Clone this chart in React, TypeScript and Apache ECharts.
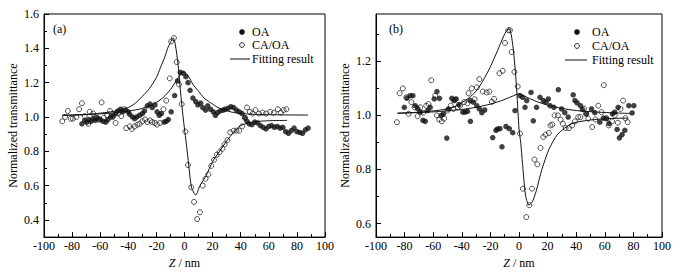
import React, { useEffect, useRef } from "react";
import * as echarts from "echarts";

type P = [number, number];

// ---- Panel (a) ----
const aOA: P[] = [
  [-73, 0.96], [-71, 0.98], [-69.5, 0.97], [-68, 0.985], [-66.5, 0.975], [-65, 0.99], [-63.5, 0.98], [-62, 0.995],
  [-60, 0.985], [-58, 0.975], [-56, 0.97], [-54.5, 0.985], [-52.5, 1.0], [-51, 1.005], [-49, 1.02], [-47.5, 1.035],
  [-45.5, 1.045], [-44, 1.03], [-42, 1.04], [-40, 1.03], [-39, 1.015], [-37, 1.0], [-35.5, 0.99], [-34, 1.0],
  [-32, 1.01], [-30, 1.02], [-28.5, 1.035], [-26.5, 1.065], [-24.5, 1.075], [-23, 1.055], [-21, 1.07], [-19.5, 1.03],
  [-18, 1.01], [-16.5, 1.02], [-14.5, 0.97], [-13, 0.975], [-11.5, 0.985], [-9.5, 1.03], [-7, 1.125], [-5, 1.21],
  [-3, 1.26], [-1, 1.255], [1, 1.235], [2.5, 1.2], [4, 1.155], [6, 1.11], [8, 1.09], [9.5, 1.07], [11.5, 1.08],
  [13, 1.055], [15, 1.04], [16.5, 1.065], [18.5, 1.045], [20.5, 1.03], [22, 1.01], [23.5, 1.025], [25.5, 1.035],
  [27.5, 1.04], [29, 1.045], [31, 1.05], [33, 1.06], [35, 1.055], [37, 1.04], [39, 1.03], [41, 1.02], [43, 0.995],
  [44.5, 0.975], [46, 0.96], [48, 0.955], [50, 0.97], [52, 0.965], [54, 0.95], [56, 0.94], [58, 0.93], [60, 0.945],
  [62, 0.95], [64, 0.94], [66, 0.945], [68, 0.935], [70, 0.94], [72, 0.915], [74, 0.905], [76, 0.92], [78, 0.935],
  [80, 0.915], [82, 0.91], [84, 0.905], [86, 0.925], [88, 0.935],
];

const aCA: P[] = [
  [-87, 0.975], [-85, 1.0], [-83, 1.035], [-81, 0.99], [-79.5, 0.99], [-77, 1.0], [-75, 1.045], [-73, 1.08],
  [-71, 1.005], [-68.5, 0.96], [-67.5, 1.03], [-65, 1.02], [-63, 0.995], [-61, 0.985], [-59, 1.085], [-57.5, 0.995],
  [-55, 1.01], [-53, 1.035], [-51, 1.0], [-49, 0.965], [-47, 1.02], [-45, 1.005], [-43, 1.045], [-41.5, 0.935],
  [-39, 0.945], [-37.5, 0.93], [-35.5, 0.945], [-33.5, 0.955], [-32, 0.96], [-30, 0.975], [-28, 0.985], [-26.5, 0.97],
  [-24.5, 0.98], [-23, 0.97], [-21, 0.965], [-19.5, 0.955], [-17.5, 0.965], [-15, 1.045], [-13, 1.095], [-10.5, 1.225],
  [-9.5, 1.44], [-7.5, 1.46], [-5.5, 1.32], [-4, 1.19], [-2, 1.075], [0.7, 0.915], [2.5, 0.72], [4.8, 0.59],
  [6.8, 0.505], [9, 0.405], [11, 0.445], [13, 0.6], [15, 0.64], [17, 0.665], [19, 0.715], [21, 0.75], [23, 0.78],
  [25, 0.795], [27, 0.815], [28.5, 0.84], [30.5, 0.865], [32.5, 0.91], [35, 0.92], [37, 0.92], [39, 0.92],
  [41, 0.945], [43, 0.995], [44.5, 1.055], [46.5, 1.03], [48.5, 1.02], [50.5, 1.04], [53, 1.02], [55.5, 1.025],
  [58, 1.02], [61, 1.03], [63.5, 1.025], [66.5, 1.045], [68.5, 1.025], [70.5, 1.04], [72.5, 1.045],
];

const aOAFit: P[] = [
  [-87, 1.01], [-70, 1.014], [-50, 1.024], [-40, 1.034], [-30, 1.05], [-20, 1.085], [-15, 1.115], [-10, 1.16],
  [-6, 1.21], [-3, 1.245], [-1, 1.262], [1, 1.255], [3, 1.235], [6, 1.19], [10, 1.15], [14, 1.11], [20, 1.075],
  [25, 1.05], [35, 1.026], [47, 1.016], [60, 1.013], [88, 1.011],
];

const aCAFit: P[] = [
  [-87, 1.009], [-75, 1.012], [-65, 1.018], [-55, 1.027], [-45, 1.042], [-40, 1.055], [-35, 1.08], [-30, 1.12],
  [-25, 1.165], [-20, 1.23], [-17, 1.29], [-14, 1.35], [-12, 1.4], [-10, 1.435], [-8, 1.46], [-6.5, 1.42],
  [-4.5, 1.3], [-2.8, 1.145], [-1.4, 1.03], [0.3, 0.91], [1.5, 0.83], [3, 0.72], [5, 0.59], [8, 0.545], [11, 0.6],
  [15.5, 0.66], [20, 0.74], [25, 0.8], [30, 0.86], [35, 0.91], [40, 0.95], [50, 0.972], [60, 0.978], [73, 0.98],
];

// ---- Panel (b) ----
const bOA: P[] = [
  [-80.2, 1.03], [-78.4, 1.064], [-76.1, 1.073], [-74.2, 1.073], [-72.6, 1.036], [-70.8, 1.025], [-69.1, 1.012],
  [-67.2, 0.982], [-65.6, 0.978], [-63.9, 1.018], [-62.1, 1.03], [-59.3, 1.061], [-57.4, 1.088], [-55.6, 1.063],
  [-54.4, 1.0], [-52.8, 1.006], [-50.5, 0.916], [-49.3, 1.024], [-47, 1.063], [-45.5, 1.055], [-44, 1.061],
  [-42, 1.04], [-39.3, 1.012], [-37.7, 1.012], [-36, 1.015], [-34.2, 1.055], [-34, 0.978], [-31.9, 1.049],
  [-29.5, 1.036], [-27.7, 1.024], [-26, 1.01], [-24, 1.02], [-18.4, 0.918], [-16.1, 0.945], [-15, 0.95],
  [-13.3, 0.951], [-11.9, 0.884], [-9.1, 0.959], [-6.8, 0.951], [-4.4, 0.936], [-2.8, 1.018], [0.7, 1.073],
  [2.6, 1.067], [4.2, 1.03], [5.4, 1.055], [8.4, 1.085], [10, 0.98], [12.3, 1.03], [14.7, 1.067], [17, 1.055],
  [18.9, 1.049], [20.5, 1.061], [21.7, 1.036], [24.4, 1.03], [27.5, 1.095], [29.8, 1.024], [32, 1.01], [34.4, 0.994],
  [37.9, 1.076], [39.1, 1.055], [40.7, 1.046], [43, 1.036], [44.4, 1.022], [47.2, 1.006], [50.7, 1.024], [53, 1.01],
  [56.5, 0.975], [59, 0.99], [61.2, 0.988], [63, 0.97], [65.4, 1.006], [67, 1.012], [68.6, 0.948], [69.3, 1.03],
  [70.2, 0.917], [72.1, 0.929], [74, 0.945], [76.8, 1.036], [79.1, 1.009], [80.3, 1.036],
];

const bCA: P[] = [
  [-85.4, 0.975], [-83.5, 1.082], [-81.2, 1.1], [-78.8, 1.067], [-77.2, 1.006], [-75.3, 1.049], [-73, 1.03],
  [-70.9, 0.997], [-69.1, 1.03], [-67, 1.01], [-64.9, 1.036], [-63.3, 1.042], [-61.4, 1.13], [-58.6, 1.073],
  [-57.4, 1.0], [-55.8, 0.985], [-54, 0.978], [-52.3, 0.988], [-50, 1.018], [-47.7, 1.036], [-45.8, 1.024],
  [-44.6, 1.058], [-43, 1.03], [-41.2, 1.036], [-38.4, 1.049], [-36, 1.045], [-35.3, 1.082], [-33, 1.1],
  [-31, 1.06], [-29.5, 1.104], [-27.7, 1.134], [-25.3, 1.088], [-22.6, 1.085], [-20.7, 1.088], [-19, 1.05],
  [-17.4, 1.061], [-13.7, 1.156], [-11.4, 1.165], [-9.8, 1.268], [-7.4, 1.315], [-6.3, 1.315], [-5.1, 1.234],
  [-3.2, 1.161], [-0.9, 1.107], [0.7, 0.933], [2.7, 0.729], [5.1, 0.624], [7.2, 0.668], [9.1, 0.729], [10.8, 0.837],
  [12.8, 0.819], [15, 0.88], [17, 0.92], [18.6, 0.929], [20.9, 0.935], [22, 0.963], [23.3, 0.966], [24.9, 1.0],
  [27.2, 1.0], [29.1, 0.984], [30.7, 0.969], [32.6, 0.953], [34.9, 0.953], [37.2, 0.963], [39.1, 0.978],
  [41.4, 0.994], [43, 0.994], [45.5, 1.025], [46.8, 1.006], [48.4, 0.988], [51.2, 0.957], [53.5, 0.985],
  [55.4, 1.036], [57.7, 1.012], [59.3, 1.112], [61, 0.99], [62.8, 0.963], [65.1, 0.978], [67, 1.0], [69.1, 0.973],
  [71, 1.024], [72.8, 1.055], [74.4, 0.99], [76, 0.975],
];

const bOAFit: P[] = [
  [-85, 1.008], [-60, 1.013], [-40, 1.022], [-30, 1.03], [-20, 1.042], [-12, 1.055], [-6, 1.068], [-2, 1.077],
  [0, 1.08], [2, 1.076], [6, 1.066], [12, 1.052], [20, 1.038], [30, 1.026], [40, 1.018], [55, 1.012], [78, 1.007],
];

const bCAFit: P[] = [
  [-85, 1.008], [-70, 1.012], [-55, 1.02], [-45, 1.032], [-35, 1.065], [-30, 1.09], [-25, 1.13], [-20, 1.18],
  [-15, 1.24], [-11, 1.29], [-8.5, 1.315], [-7, 1.32], [-5.5, 1.3], [-4, 1.245], [-2.5, 1.16], [-1.5, 1.085],
  [0, 0.95], [1.2, 0.9], [2.8, 0.8], [4.7, 0.7], [7, 0.668], [9.5, 0.683], [12, 0.72], [16, 0.8], [21, 0.875],
  [27, 0.93], [37, 0.97], [50, 0.983], [62, 0.988], [76, 0.99],
];

// ---- axis ticks ----
const xTicks = { min: -100, max: 100, interval: 20 };
const aYMajor = [0.4, 0.6, 0.8, 1.0, 1.2, 1.4, 1.6];
const aYMinor = [0.3, 0.5, 0.7, 0.9, 1.1, 1.3, 1.5];
const bYMajor = [0.6, 0.8, 1.0, 1.2];
const bYMinor = [0.7, 0.9, 1.1, 1.3];

const FONT = '"Liberation Serif", "Times New Roman", serif';
const BLACK = "#000";

export default function App() {
  const ref = useRef<HTMLDivElement>(null);
  useEffect(() => {
    if (!ref.current) return;
    const chart = echarts.init(ref.current, undefined, { renderer: "svg" });

    const grids = [
      { left: 44, top: 14, width: 281, height: 225 },
      { left: 376, top: 14, width: 286, height: 225 },
    ];

    const xAxis = grids.map((_, i) => ({
      type: "value",
      gridIndex: i,
      ...xTicks,
      name: "{i|Z} / nm",
      nameLocation: "middle",
      nameGap: 16,
      nameTextStyle: {
        color: BLACK,
        fontFamily: FONT,
        fontSize: 12,
        verticalAlign: "top",
        rich: { i: { fontStyle: "italic", fontFamily: FONT, fontSize: 12, color: BLACK } },
      },
      axisLine: { onZero: false, lineStyle: { color: BLACK, width: 1 } },
      axisTick: { inside: true, length: 5, lineStyle: { color: BLACK } },
      minorTick: { show: true, splitNumber: 2, length: 3, lineStyle: { color: BLACK } },
      axisLabel: { color: BLACK, fontFamily: FONT, fontSize: 12, margin: 3 },
      splitLine: { show: false },
      minorSplitLine: { show: false },
    }));

    const yMain = (i: number, min: number, max: number, major: number[]) => ({
      type: "value",
      gridIndex: i,
      min,
      max,
      position: "left",
      name: "Normalized transmittance",
      nameLocation: "middle",
      nameGap: 25,
      nameTextStyle: { color: BLACK, fontFamily: FONT, fontSize: 12 },
      axisLine: { show: true, onZero: false, lineStyle: { color: BLACK, width: 1 } },
      axisTick: { inside: true, length: 5, customValues: major, lineStyle: { color: BLACK } },
      axisLabel: {
        color: BLACK,
        fontFamily: FONT,
        fontSize: 12,
        margin: 5,
        customValues: major,
        formatter: (v: number) => v.toFixed(1),
      },
      splitLine: { show: false },
    });
    const yMinor = (i: number, min: number, max: number, minor: number[]) => ({
      type: "value",
      gridIndex: i,
      min,
      max,
      position: "left",
      axisLine: { show: false, onZero: false },
      axisTick: { show: true, inside: true, length: 3, customValues: minor, lineStyle: { color: BLACK } },
      axisLabel: { show: false },
      splitLine: { show: false },
    });

    const yAxis = [
      yMain(0, 0.3, 1.6, aYMajor),
      yMain(1, 0.55, 1.375, bYMajor),
      yMinor(0, 0.3, 1.6, aYMinor),
      yMinor(1, 0.55, 1.375, bYMinor),
    ];

    const filled = (name: string, data: P[], i: number) => ({
      name,
      type: "scatter",
      xAxisIndex: i,
      yAxisIndex: i,
      data,
      symbol: "circle",
      symbolSize: 5.5,
      itemStyle: { color: "#111" },
      z: 3,
    });
    const hollow = (name: string, data: P[], i: number) => ({
      name,
      type: "scatter",
      xAxisIndex: i,
      yAxisIndex: i,
      data,
      symbol: "circle",
      symbolSize: 5,
      itemStyle: { color: "rgba(255,255,255,0)", borderColor: "#111", borderWidth: 0.9 },
      z: 3,
    });
    const fit = (data: P[], i: number) => ({
      name: "Fitting result",
      type: "line",
      xAxisIndex: i,
      yAxisIndex: i,
      data,
      symbol: "none",
      smooth: 0.25,
      lineStyle: { color: "#111", width: 1 },
      z: 4,
    });

    const legendG = (mx: number, tx: number, y0: number, y1: number, y2: number, lx0: number, lx1: number) => [
      { type: "circle", shape: { cx: mx, cy: y0, r: 2.8 }, style: { fill: "#111" } },
      { type: "text", x: tx, y: y0, style: { text: "OA", font: `12px ${FONT}`, fill: BLACK, verticalAlign: "middle" } },
      { type: "circle", shape: { cx: mx, cy: y1, r: 2.4 }, style: { fill: "#fff", stroke: "#111", lineWidth: 0.9 } },
      { type: "text", x: tx, y: y1, style: { text: "CA/OA", font: `12px ${FONT}`, fill: BLACK, verticalAlign: "middle" } },
      { type: "line", shape: { x1: lx0, y1: y2, x2: lx1, y2: y2 }, style: { stroke: "#111", lineWidth: 1 } },
      { type: "text", x: tx, y: y2, style: { text: "Fitting result", font: `12px ${FONT}`, fill: BLACK, verticalAlign: "middle" } },
    ];

    chart.setOption({
      animation: false,
      backgroundColor: "#fff",
      grid: grids.map((g) => ({ ...g, show: true, borderColor: BLACK, borderWidth: 1, backgroundColor: "transparent" })),
      xAxis,
      yAxis,
      series: [
        filled("OA", aOA, 0),
        hollow("CA/OA", aCA, 0),
        fit(aOAFit, 0),
        fit(aCAFit, 0),
        filled("OA", bOA, 1),
        hollow("CA/OA", bCA, 1),
        fit(bOAFit, 1),
        fit(bCAFit, 1),
      ],
      graphic: [
        { type: "text", x: 53, y: 29, style: { text: "(a)", font: `12px ${FONT}`, fill: BLACK, verticalAlign: "middle" } },
        { type: "text", x: 389, y: 29, style: { text: "(b)", font: `12px ${FONT}`, fill: BLACK, verticalAlign: "middle" } },
        ...legendG(242, 252, 32, 45, 59, 230, 250),
        ...legendG(577, 592, 32, 46, 60, 565, 587),
      ],
    });
    return () => chart.dispose();
  }, []);

  return (
    <div
      ref={ref}
      style={{ position: "fixed", left: 0, top: 0, width: 683, height: 274, background: "#fff" }}
    />
  );
}
